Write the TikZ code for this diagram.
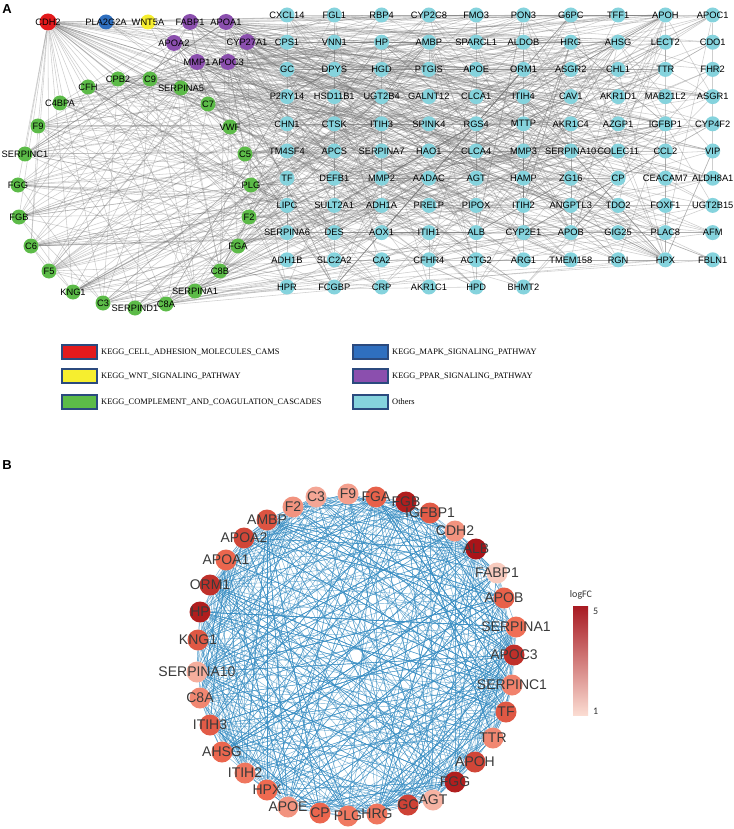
\documentclass[tikz,border=0pt]{standalone}
\usepackage{fontspec}
\setmainfont{Liberation Sans}
\newfontfamily\legfont{Liberation Serif}
\newfontfamily\barfont{Carlito}
\pgfdeclarelayer{bg}
\pgfsetlayers{bg,main}
\definecolor{redA}{HTML}{E31A1C}
\definecolor{blueA}{HTML}{2F6FBF}
\definecolor{yelA}{HTML}{F6EE2F}
\definecolor{purA}{HTML}{8B4FAE}
\definecolor{grnA}{HTML}{5CBB48}
\definecolor{cyaA}{HTML}{85D3DD}
\definecolor{legborder}{HTML}{2B4A7E}
\definecolor{fcL}{HTML}{FBE3DA}
\definecolor{fcM}{HTML}{EE6A50}
\definecolor{fcH}{HTML}{A50F15}
\definecolor{barL}{HTML}{FBDCD2}
\definecolor{barM}{HTML}{EC5A44}
\definecolor{barH}{HTML}{A81A22}
\definecolor{edgeBc}{HTML}{3A8FC4}
\definecolor{labBc}{HTML}{3A3A3A}
\begin{document}
\begin{tikzpicture}[x=1pt,y=-1pt,
  labA/.style={font=\fontsize{9.3}{10}\selectfont, text=black, inner sep=0pt},
  geneA/.style 2 args={circle, minimum size=15pt, inner sep=0pt, draw=none, fill=#1, label={[labA]center:#2}},
  labB/.style={font=\fontsize{14}{15}\selectfont, text=labBc, inner sep=0pt},
  geneB/.style 2 args={circle, minimum size=21pt, inner sep=0pt, draw=none, fill=#1, label={[labB]center:#2}},
  edgeA/.style={draw=black!55, draw opacity=0.35, line width=0.55pt},
  edgeB/.style={draw=edgeBc, draw opacity=0.7, line width=0.45pt},
  legbox/.style={rectangle, minimum width=35pt, minimum height=14pt, inner sep=0pt, draw=legborder, line width=1.2pt},
  legtxt/.style={anchor=west, inner sep=0pt, font=\legfont\fontsize{8.4}{9}\selectfont},
  bartxt/.style={font=\barfont\fontsize{10}{11}\selectfont, inner sep=0pt, text=black!80},
  panel/.style={font=\bfseries\fontsize{13}{14}\selectfont, inner sep=0pt}
]
\useasboundingbox (0,0) rectangle (733,829);
\begin{pgfonlayer}{bg}
\fill[white] (0,0) rectangle (733,829);
\end{pgfonlayer}

% ---------------- Panel A ----------------
\node[panel] (labA) at (7,9) {A};
\node[geneA={redA}{CDH2}, minimum size=17pt] (A-CDH2) at (48,22) {};
\node[geneA={blueA}{PLA2G2A}] (A-PLA2G2A) at (106,22) {};
\node[geneA={yelA}{WNT5A}] (A-WNT5A) at (148,22) {};
\foreach \n/\x/\y [count=\i] in {FABP1/190/22, APOA1/226/22, APOA2/174/43, CYP27A1/247/42, MMP1/197/62, APOC3/228/62}{
  \node[geneA={purA}{\n}, alias=p\i, minimum size=16pt] (A-\n) at (\x,\y) {};
}
\foreach \n/\x/\y [count=\i] in {CPB2/118/79, C9/150/79, CFH/88/87, SERPINA5/181/88, C4BPA/60/103, C7/208/104, F9/38/126, VWF/230/127, SERPINC1/25/154, C5/245/154, FGG/18/185, PLG/251/185, FGB/19/217, F2/249/217, C6/31/246, FGA/238/246, F5/49/271, C8B/220/271, KNG1/73/292, SERPINA1/195/291, C3/103/303, SERPIND1/135/308, C8A/166/304}{
  \node[geneA={grnA}{\n}, alias=g\i] (A-\n) at (\x,\y) {};
}
\foreach \row [count=\r from 0] in {
  {CXCL14,FGL1,RBP4,CYP2C8,FMO3,PON3,G6PC,TFF1,APOH,APOC1},
  {CPS1,VNN1,HP,AMBP,SPARCL1,ALDOB,HRG,AHSG,LECT2,CDO1},
  {GC,DPYS,HGD,PTGIS,APOE,ORM1,ASGR2,CHL1,TTR,FHR2},
  {P2RY14,HSD11B1,UGT2B4,GALNT12,CLCA1,ITIH4,CAV1,AKR1D1,MAB21L2,ASGR1},
  {CHN1,CTSK,ITIH3,SPINK4,RGS4,MTTP,AKR1C4,AZGP1,IGFBP1,CYP4F2},
  {TM4SF4,APCS,SERPINA7,HAO1,CLCA4,MMP3,SERPINA10,COLEC11,CCL2,VIP},
  {TF,DEFB1,MMP2,AADAC,AGT,HAMP,ZG16,CP,CEACAM7,ALDH8A1},
  {LIPC,SULT2A1,ADH1A,PRELP,PIPOX,ITIH2,ANGPTL3,TDO2,FOXF1,UGT2B15},
  {SERPINA6,DES,AOX1,ITIH1,ALB,CYP2E1,APOB,GIG25,PLAC8,AFM},
  {ADH1B,SLC2A2,CA2,CFHR4,ACTG2,ARG1,TMEM158,RGN,HPX,FBLN1},
  {HPR,FCGBP,CRP,AKR1C1,HPD,BHMT2}}{
  \foreach \g [count=\c from 0] in \row {
    \pgfmathtruncatemacro{\idx}{\r*10+\c+1}
    \node[geneA={cyaA}{\g}, alias=c\idx] (A-\g) at ({287+47.3*\c},{15+27.2*\r}) {};
  }
}

\begin{pgfonlayer}{bg}
\pgfmathsetseed{4242}
\foreach \i in {1,...,23}{\draw[edgeA] (A-CDH2) -- (g\i);}
\foreach \t in {1,...,25}{\pgfmathrandominteger{\k}{1}{106}\draw[edgeA] (A-CDH2) -- (c\k);}
\foreach \t in {1,...,6}{\pgfmathrandominteger{\k}{1}{106}\draw[edgeA] (A-PLA2G2A) -- (c\k);}
\foreach \t in {1,...,5}{\pgfmathrandominteger{\k}{1}{106}\draw[edgeA] (A-WNT5A) -- (c\k);}
\foreach \i in {1,...,6}{
  \foreach \t in {1,...,22}{\pgfmathrandominteger{\k}{1}{106}\draw[edgeA] (p\i) -- (c\k);}
  \foreach \t in {1,...,5}{\pgfmathrandominteger{\k}{1}{23}\draw[edgeA] (p\i) -- (g\k);}
}
\foreach \i in {1,...,23}{
  \foreach \t in {1,...,11}{\pgfmathrandominteger{\k}{1}{106}\draw[edgeA] (g\i) -- (c\k);}
}
\foreach \t in {1,...,55}{\pgfmathrandominteger{\u}{1}{23}\pgfmathrandominteger{\v}{1}{23}\ifnum\u=\v\else\draw[edgeA] (g\u) -- (g\v);\fi}
\foreach \h in {18,85,87,49,99,29,9,65,76,17,26,68,57,56,36,13,21,14}{
  \foreach \t in {1,...,12}{\pgfmathrandominteger{\k}{1}{106}\ifnum\h=\k\else\draw[edgeA] (c\h) -- (c\k);\fi}
}
\foreach \t in {1,...,150}{\pgfmathrandominteger{\u}{1}{106}\pgfmathrandominteger{\v}{1}{106}\ifnum\u=\v\else\draw[edgeA] (c\u) -- (c\v);\fi}
\end{pgfonlayer}

% legend
\node[legbox, fill=redA] (leg1) at (79.5,352) {};
\node[legtxt] (legt1) at (101,352) {KEGG\_CELL\_ADHESION\_MOLECULES\_CAMS};
\node[legbox, fill=yelA] (leg2) at (79.5,376) {};
\node[legtxt] (legt2) at (101,376) {KEGG\_WNT\_SIGNALING\_PATHWAY};
\node[legbox, fill=grnA] (leg3) at (79.5,402) {};
\node[legtxt] (legt3) at (101,402) {KEGG\_COMPLEMENT\_AND\_COAGULATION\_CASCADES};
\node[legbox, fill=blueA] (leg4) at (370.5,352) {};
\node[legtxt] (legt4) at (392,352) {KEGG\_MAPK\_SIGNALING\_PATHWAY};
\node[legbox, fill=purA] (leg5) at (370.5,376) {};
\node[legtxt] (legt5) at (392,376) {KEGG\_PPAR\_SIGNALING\_PATHWAY};
\node[legbox, fill=cyaA] (leg6) at (370.5,402) {};
\node[legtxt] (legt6) at (392,402) {Others};

% ---------------- Panel B ----------------
\node[panel] (labB) at (7,465) {B};
\foreach \n/\x/\y/\col [count=\i] in {
  C3/316/497/fcM!50!fcL, F9/348/494/fcM!56!fcL, FGA/376/497/fcH!10!fcM, FGB/406/502/fcH!84!fcM,
  IGFBP1/430/513/fcH!16!fcM, CDH2/455/531/fcM!66!fcL, ALB/476/549/fcH!94!fcM, FABP1/497/573/fcM!20!fcL,
  APOB/504/598/fcH!10!fcM, SERPINA1/516/627/fcM!96!fcL, APOC3/514/655/fcH!64!fcM, SERPINC1/512/685/fcM!80!fcL,
  TF/506/712/fcH!20!fcM, TTR/493/738/fcM!76!fcL, APOH/475/762/fcH!40!fcM, FGG/455/782/fcH!84!fcM,
  AGT/433/800/fcM!40!fcL, GC/408/805/fcH!44!fcM, HRG/377/814/fcM!90!fcL, PLG/348/816/fcM!88!fcL,
  CP/320/813/fcH!4!fcM, APOE/288/807/fcM!66!fcL, HPX/267/790/fcM!100!fcL, ITIH2/245/773/fcM!90!fcL,
  AHSG/222/752/fcH!4!fcM, ITIH3/210/725/fcH!16!fcM, C8A/200/698/fcM!76!fcL, SERPINA10/197/672/fcM!44!fcL,
  KNG1/198/640/fcH!20!fcM, HP/200/612/fcH!84!fcM, ORM1/210/585/fcH!64!fcM, APOA1/226/560/fcH!4!fcM,
  APOA2/244/538/fcH!40!fcM, AMBP/267/520/fcH!24!fcM, F2/293/507/fcM!66!fcL}{
  \node[geneB={\col}{\n}, alias=b\i] (B-\n) at (\x,\y) {};
}
\begin{pgfonlayer}{bg}
\pgfmathsetseed{777}
\foreach \t in {1,...,640}{\pgfmathrandominteger{\u}{1}{35}\pgfmathrandominteger{\v}{1}{35}\ifnum\u=\v\else\draw[edgeB] (b\u) -- (b\v);\fi}
\end{pgfonlayer}

% colour bar
\shade[top color=barH, middle color=barM, bottom color=barL] (573,606) rectangle (588,715);
\node[bartxt] (barT) at (581,595) {logFC};
\node[bartxt, anchor=west] (bar5) at (593,611) {5};
\node[bartxt, anchor=west] (bar1) at (593,711) {1};
\end{tikzpicture}
\end{document}
